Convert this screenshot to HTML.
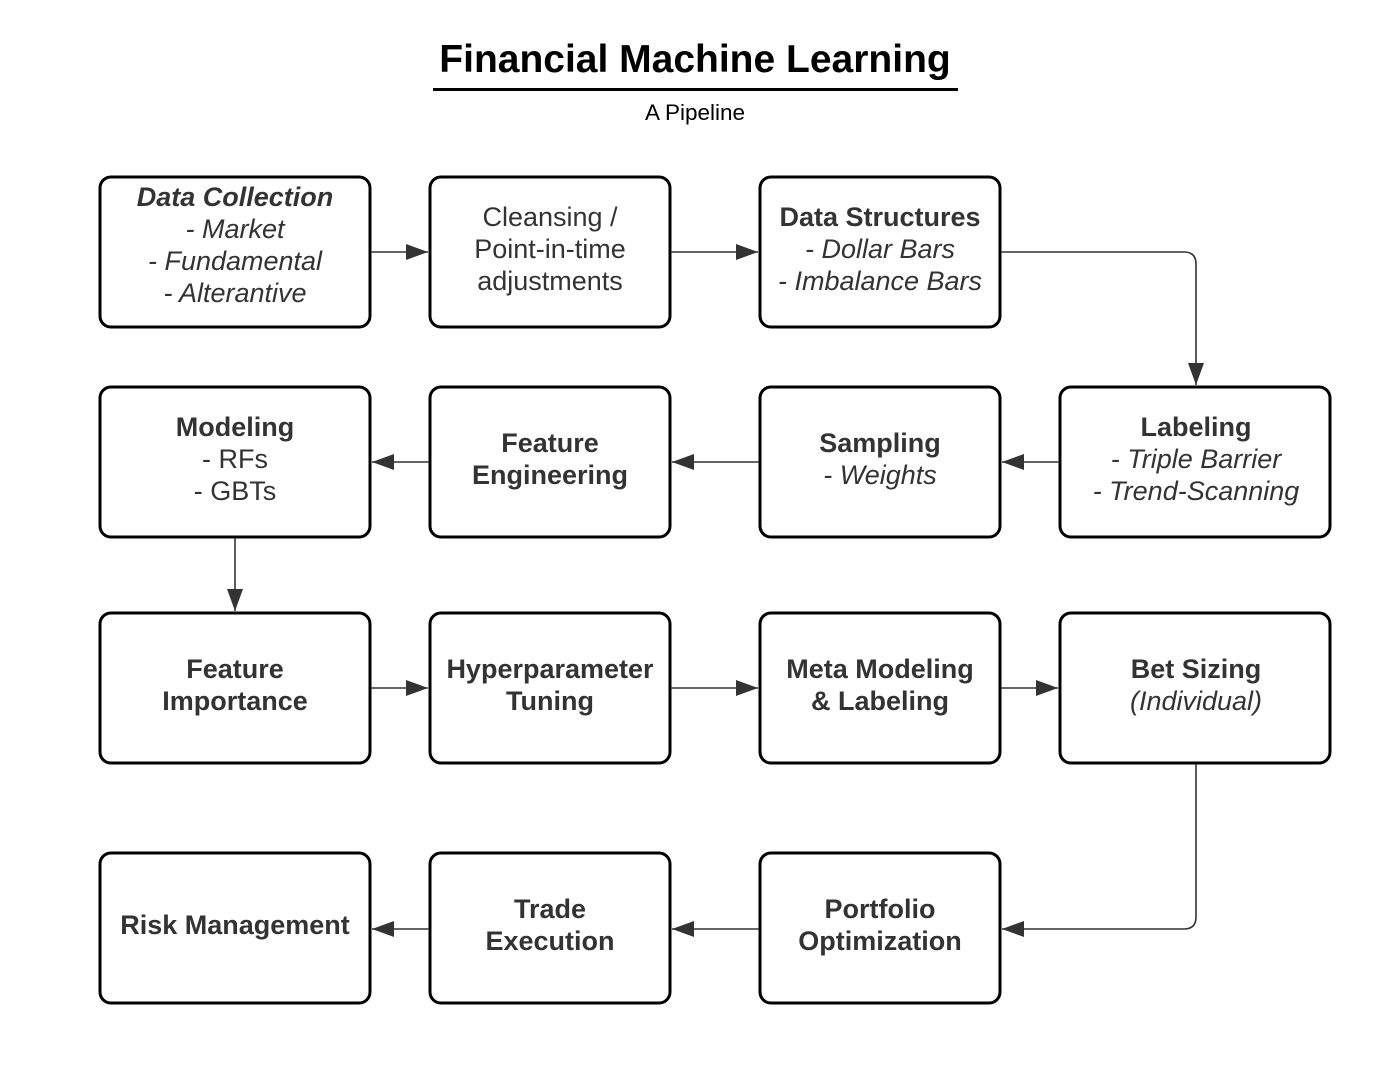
<!DOCTYPE html>
<html><head><meta charset="utf-8"><style>
html,body{margin:0;padding:0;background:#fff;}
svg{display:block;}
text{font-family:"Liberation Sans",Arial,sans-serif;fill:#333;font-size:27px;}
.b{font-weight:bold;}
.i{font-style:italic;}
</style></head><body>
<svg width="1400" height="1069" viewBox="0 0 1400 1069" xmlns="http://www.w3.org/2000/svg">
<defs>
<marker id="a" markerWidth="22" markerHeight="16" refX="22" refY="8" orient="auto" markerUnits="userSpaceOnUse">
<path d="M0,0 L22,8 L0,16 Z" fill="#333"/>
</marker>
</defs>
<text x="695" y="72" text-anchor="middle" class="b" style="font-size:39px;fill:#000">Financial Machine Learning</text>
<rect x="433" y="88" width="525" height="3" fill="#000"/>
<text x="695" y="120" text-anchor="middle" style="font-size:22.5px;fill:#000">A Pipeline</text>

<g fill="none" stroke="#000" stroke-width="3">
<rect x="100" y="177" width="270" height="150" rx="11"/>
<rect x="430" y="177" width="240" height="150" rx="11"/>
<rect x="760" y="177" width="240" height="150" rx="11"/>
<rect x="100" y="387" width="270" height="150" rx="11"/>
<rect x="430" y="387" width="240" height="150" rx="11"/>
<rect x="760" y="387" width="240" height="150" rx="11"/>
<rect x="1060" y="387" width="270" height="150" rx="11"/>
<rect x="100" y="613" width="270" height="150" rx="11"/>
<rect x="430" y="613" width="240" height="150" rx="11"/>
<rect x="760" y="613" width="240" height="150" rx="11"/>
<rect x="1060" y="613" width="270" height="150" rx="11"/>
<rect x="100" y="853" width="270" height="150" rx="11"/>
<rect x="430" y="853" width="240" height="150" rx="11"/>
<rect x="760" y="853" width="240" height="150" rx="11"/>
</g>

<g fill="none" stroke="#333" stroke-width="1.6" marker-end="url(#a)">
<path d="M371,252 H428"/>
<path d="M671,252 H758"/>
<path d="M1001,252 H1184 Q1196,252 1196,264 V385"/>
<path d="M1059,462 H1002"/>
<path d="M759,462 H672"/>
<path d="M429,462 H372"/>
<path d="M235,538 V611"/>
<path d="M371,688 H428"/>
<path d="M671,688 H758"/>
<path d="M1001,688 H1058"/>
<path d="M1196,764 V917 Q1196,929 1184,929 H1002"/>
<path d="M759,929 H672"/>
<path d="M429,929 H372"/>
</g>

<g text-anchor="middle">
<text x="235" y="206" class="b i">Data Collection</text>
<text x="235" y="238" class="i">- Market</text>
<text x="235" y="270" class="i">- Fundamental</text>
<text x="235" y="302" class="i">- Alterantive</text>

<text x="550" y="226">Cleansing /</text>
<text x="550" y="258">Point-in-time</text>
<text x="550" y="290">adjustments</text>

<text x="880" y="226" class="b">Data Structures</text>
<text x="880" y="258" class="i">- Dollar Bars</text>
<text x="880" y="290" class="i">- Imbalance Bars</text>

<text x="235" y="436" class="b">Modeling</text>
<text x="235" y="468">- RFs</text>
<text x="235" y="500">- GBTs</text>

<text x="550" y="452" class="b">Feature</text>
<text x="550" y="484" class="b">Engineering</text>

<text x="880" y="452" class="b">Sampling</text>
<text x="880" y="484" class="i">- Weights</text>

<text x="1196" y="436" class="b">Labeling</text>
<text x="1196" y="468" class="i">- Triple Barrier</text>
<text x="1196" y="500" class="i">- Trend-Scanning</text>

<text x="235" y="678" class="b">Feature</text>
<text x="235" y="710" class="b">Importance</text>

<text x="550" y="678" class="b">Hyperparameter</text>
<text x="550" y="710" class="b">Tuning</text>

<text x="880" y="678" class="b">Meta Modeling</text>
<text x="880" y="710" class="b">&amp; Labeling</text>

<text x="1196" y="678" class="b">Bet Sizing</text>
<text x="1196" y="710" class="i">(Individual)</text>

<text x="235" y="934" class="b">Risk Management</text>

<text x="550" y="918" class="b">Trade</text>
<text x="550" y="950" class="b">Execution</text>

<text x="880" y="918" class="b">Portfolio</text>
<text x="880" y="950" class="b">Optimization</text>
</g>
</svg>
</body></html>
